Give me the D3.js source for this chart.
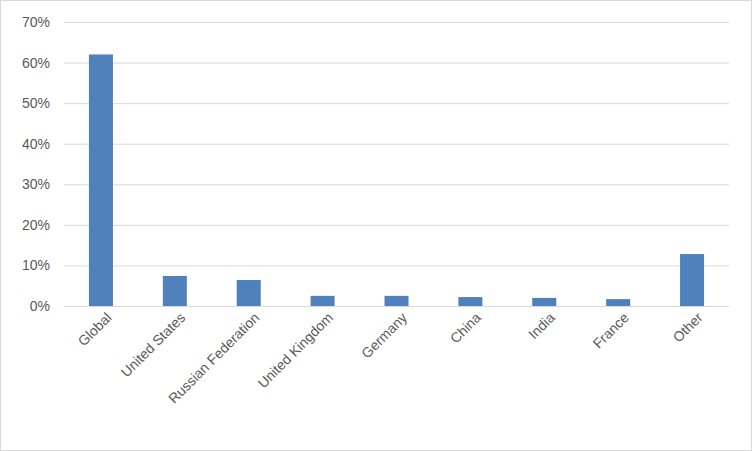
<!DOCTYPE html>
<html><head><meta charset="utf-8">
<script src="https://cdn.jsdelivr.net/npm/d3@7"></script>
<style>body{margin:0;background:#fff}</style></head>
<body><svg id="c" width="752" height="451"></svg>
<script>
const categories=["Global","United States","Russian Federation","United Kingdom","Germany","China","India","France","Other"];
const values=[0.62,0.074,0.064,0.025,0.025,0.022,0.020,0.017,0.128];
const yTicks=[0,0.1,0.2,0.3,0.4,0.5,0.6,0.7];
const svg=d3.select("#c");
svg.append("rect").attr("x",0.5).attr("y",0.5).attr("width",751).attr("height",450).attr("fill","#fff").attr("stroke","#d9d9d9");
const x=d3.scaleBand().domain(categories).range([64,729]).paddingInner(0.675).paddingOuter(0.3375);
const y=d3.scaleLinear().domain([0,0.7]).range([306,22]);
const font="'Liberation Sans', Arial, sans-serif";
svg.append("g").selectAll("line").data(yTicks).join("line")
 .attr("x1",64).attr("x2",729).attr("y1",d=>y(d)+0.5).attr("y2",d=>y(d)+0.5)
 .attr("stroke","#d9d9d9");
svg.append("g").selectAll("text").data(yTicks).join("text")
 .attr("x",50).attr("y",d=>y(d)+5).attr("text-anchor","end")
 .attr("font-family",font).attr("font-size",14).attr("fill","#595959")
 .text(d=>d3.format(".0%")(d));
svg.append("g").selectAll("rect").data(values).join("rect")
 .attr("x",(d,i)=>x(categories[i])).attr("width",x.bandwidth())
 .attr("y",d=>y(d)).attr("height",d=>y(0)-y(d)).attr("fill","#4f81bd");
svg.append("g").selectAll("text").data(categories).join("text")
 .attr("transform",d=>`translate(${x(d)+x.bandwidth()/2+8},${315}) rotate(-45)`)
 .attr("text-anchor","end").attr("dy","0.35em")
 .attr("font-family",font).attr("font-size",14).attr("fill","#595959").text(d=>d);
</script></body></html>
